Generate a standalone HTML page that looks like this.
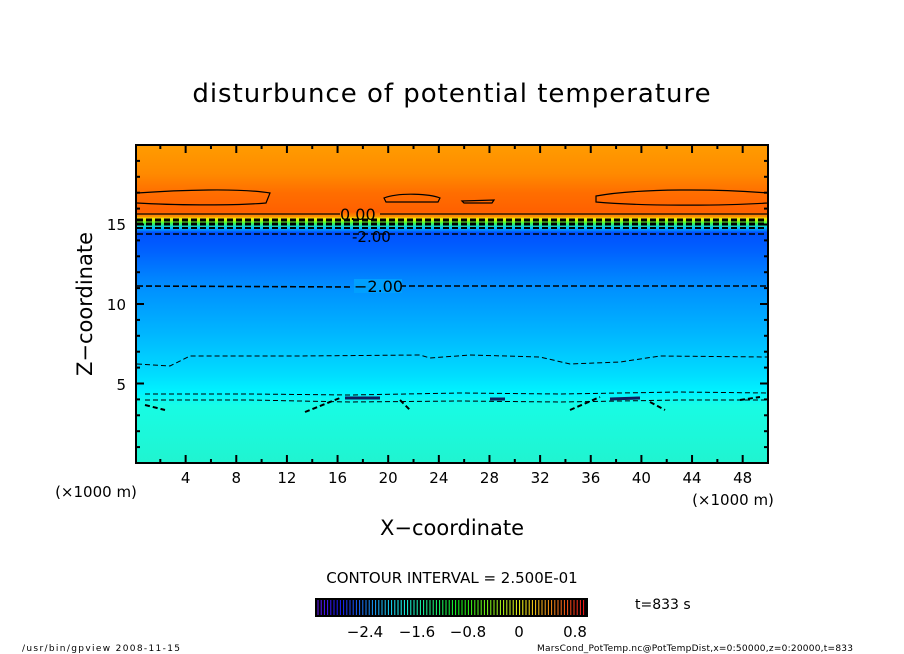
<!DOCTYPE html>
<html><head><meta charset="utf-8"><style>
body{margin:0;background:#fff;}
svg{display:block;font-family:"DejaVu Sans","Liberation Sans",sans-serif;}
</style></head><body>
<svg id="s" width="904" height="654" viewBox="0 0 904 654" xmlns="http://www.w3.org/2000/svg">
<defs>
<linearGradient id="g" x1="0" y1="0" x2="0" y2="1">
<stop offset="0" stop-color="#ff9c00"/>
<stop offset="0.09" stop-color="#ff8a00"/>
<stop offset="0.15" stop-color="#ff6e00"/>
<stop offset="0.21" stop-color="#ff6000"/>
<stop offset="0.225" stop-color="#ff9000"/>
<stop offset="0.232" stop-color="#f0f000"/>
<stop offset="0.245" stop-color="#40ff40"/>
<stop offset="0.26" stop-color="#00c0ff"/>
<stop offset="0.275" stop-color="#0050ff"/>
<stop offset="0.33" stop-color="#0060ff"/>
<stop offset="0.45" stop-color="#0090ff"/>
<stop offset="0.6" stop-color="#00b8ff"/>
<stop offset="0.72" stop-color="#00dcff"/>
<stop offset="0.78" stop-color="#00f4ff"/>
<stop offset="0.82" stop-color="#18fce4"/>
<stop offset="1" stop-color="#20f4d0"/>
</linearGradient>
</defs>
<text x="452" y="102" font-size="26" text-anchor="middle" letter-spacing="1">disturbunce of potential temperature</text>
<rect x="136" y="145" width="632" height="318" fill="url(#g)"/>
<g fill="none" stroke="#000" stroke-width="1.2">
<path d="M137,193 C180,190 240,188 270,193 L266,203 C230,206 170,205 137,203"/>
<path d="M384,198 C400,192 430,194 440,198 L438,202 L386,202 Z"/>
<path d="M462,201 L494,200 L492,203 L464,203 Z"/>
<path d="M596,196 C640,188 720,189 768,193 L768,203 C720,206 640,206 596,202 Z"/>
<line x1="137" y1="214" x2="340" y2="214"/><line x1="380" y1="214" x2="768" y2="214"/>
</g>
<g stroke="#000" fill="none">
<line x1="137" y1="220" x2="768" y2="220" stroke-width="3" stroke-dasharray="6,3"/>
<line x1="137" y1="224" x2="768" y2="224" stroke-width="3" stroke-dasharray="6,3"/>
<line x1="137" y1="228" x2="768" y2="228" stroke-width="2" stroke-dasharray="6,3"/>
<line x1="137" y1="234" x2="768" y2="234" stroke-width="1.5" stroke-dasharray="6,3"/>
<path d="M137,286 L350,287 M400,286 L768,286" stroke-width="1.6" stroke-dasharray="6,3"/>
<path d="M137,364 L170,366 L190,356 L300,356 L420,355 L430,358 L470,355 L540,357 L570,364 L620,362 L660,356 L768,357" stroke-width="1" stroke-dasharray="5,3"/>
<path d="M145,394 L250,394 L350,395 L460,393 L560,394 L680,392 L768,393" stroke-width="1" stroke-dasharray="5,3"/>
<path d="M145,400 L250,400 L350,402 L460,401 L560,402 L680,400 L768,400" stroke-width="1" stroke-dasharray="5,3"/>
<path d="M145,405 L165,410 M305,412 L340,398 M400,400 L410,410 M570,410 L600,397 M650,402 L665,410 M740,400 L760,397" stroke-width="2" stroke-dasharray="5,3"/>
<path d="M345,398 L380,398 M490,399 L505,399 M610,399 L640,398" stroke-width="3" stroke="#102060"/>
</g>
<g font-size="16">
<text x="340" y="220">0.00</text>
<text x="352" y="242" font-size="15">-2.00</text>
<rect x="354" y="279" width="48" height="14" fill="#00a0ff"/>
<text x="354" y="292">−2.00</text>
</g>
<rect x="136" y="145" width="632" height="318" fill="none" stroke="#000" stroke-width="2"/>
<g id="ticks" stroke="#000" stroke-width="2"></g>
<g font-size="15" text-anchor="middle" id="xl"></g>
<g font-size="15" text-anchor="end">
<text x="126" y="230">15</text><text x="126" y="310">10</text><text x="126" y="390">5</text>
</g>
<text x="96" y="497" font-size="15" text-anchor="middle">(×1000 m)</text>
<text x="733" y="505" font-size="15" text-anchor="middle">(×1000 m)</text>
<text x="452" y="535" font-size="21" text-anchor="middle">X−coordinate</text>
<text transform="translate(92,304) rotate(-90)" font-size="21" text-anchor="middle">Z−coordinate</text>
<text x="452" y="583" font-size="15" text-anchor="middle">CONTOUR INTERVAL = 2.500E-01</text>
<rect x="315" y="598" width="273" height="19" fill="#000"/>
<g id="cb" stroke-width="1"></g>
<g font-size="15" text-anchor="middle">
<text x="365" y="637">−2.4</text><text x="417" y="637">−1.6</text><text x="468" y="637">−0.8</text><text x="519" y="637">0</text><text x="575" y="637">0.8</text>
</g>
<text x="635" y="609" font-size="14">t=833 s</text>
<text x="22" y="651" font-size="9" textLength="158">/usr/bin/gpview   2008-11-15</text>
<text x="537" y="651" font-size="9" textLength="316">MarsCond_PotTemp.nc@PotTempDist,x=0:50000,z=0:20000,t=833</text>
</svg>
<script>
var ns="http://www.w3.org/2000/svg",t=document.getElementById("ticks"),xl=document.getElementById("xl"),cb=document.getElementById("cb");
function L(g,a,b,c,d,col){var l=document.createElementNS(ns,"line");l.setAttribute("x1",a);l.setAttribute("y1",b);l.setAttribute("x2",c);l.setAttribute("y2",d);if(col)l.setAttribute("stroke",col);g.appendChild(l);}
for(var k=2;k<50;k+=2){var x=135+k*12.66,m=k%4==0;L(t,x,463,x,463-(m?8:4));L(t,x,145,x,145+(m?8:4));if(m){var tx=document.createElementNS(ns,"text");tx.setAttribute("x",x);tx.setAttribute("y",483);tx.textContent=k;xl.appendChild(tx);}}
for(var k=1;k<20;k++){var y=463-k*15.9,m=k%5==0;L(t,136,y,136+(m?8:4),y);L(t,768,y,768-(m?8:4),y);}
for(var i=0;i<84;i++){var x=318+i*3.2,f=i/83,h=260-f*260;L(cb,x,600,x,615,"hsl("+h+",100%,55%)");}
</script>
</body></html>
